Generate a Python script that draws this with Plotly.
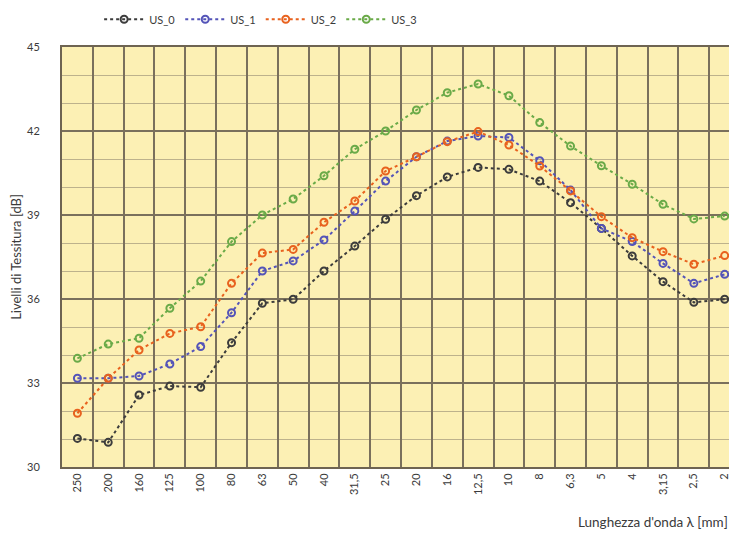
import plotly.graph_objects as go

categories = ["250", "200", "160", "125", "100", "80", "63", "50", "40", "31,5", "25",
              "20", "16", "12,5", "10", "8", "6,3", "5", "4", "3,15", "2,5", "2"]

us_0 = [31.02, 30.88, 32.57, 32.89, 32.85, 34.44, 35.85, 35.99, 37.0, 37.89, 38.85,
        39.69, 40.36, 40.70, 40.63, 40.21, 39.44, 38.52, 37.54, 36.62, 35.88, 35.99]
us_1 = [33.17, 33.17, 33.25, 33.68, 34.30, 35.51, 37.0, 37.36, 38.11, 39.14, 40.21,
        41.08, 41.64, 41.82, 41.77, 40.94, 39.89, 38.52, 38.05, 37.27, 36.56, 36.88]
us_2 = [31.92, 33.17, 34.18, 34.77, 35.01, 36.56, 37.64, 37.77, 38.74, 39.5, 40.57,
        41.08, 41.62, 41.98, 41.5, 40.75, 39.86, 38.94, 38.19, 37.69, 37.24, 37.55]
us_3 = [33.88, 34.39, 34.6, 35.67, 36.64, 38.05, 39.0, 39.57, 40.40, 41.35, 42.0,
        42.75, 43.37, 43.68, 43.26, 42.3, 41.46, 40.76, 40.1, 39.38, 38.86, 38.96]

series = [("US_0", us_0, "#3c3c3c"),
          ("US_1", us_1, "#5454b8"),
          ("US_2", us_2, "#e8621e"),
          ("US_3", us_3, "#6aaa48")]

y_ticks = [30, 33, 36, 39, 42, 45]

fig = go.Figure()
for name, vals, col in series:
    fig.add_trace(go.Scatter(
        x=categories, y=vals, name=name, mode="lines+markers",
        line=dict(color=col, width=2, dash="dot"),
        marker=dict(symbol="circle-open", size=7, color=col, line=dict(width=2)),
    ))

font_fam = "Lato, 'Open Sans', sans-serif"
fig.update_layout(
    width=729, height=530,
    margin=dict(l=54, r=0, t=39, b=71, autoexpand=False),
    paper_bgcolor="white",
    plot_bgcolor="#fcf0b4",
    font=dict(family=font_fam, size=11, color="#3a3a3a"),
    showlegend=True,
    legend=dict(orientation="h", x=0.055, xanchor="left", y=1.066, yanchor="middle",
                font=dict(size=11, color="#3a3a3a"), itemwidth=40,
                bgcolor="rgba(0,0,0,0)"),
    xaxis=dict(
        type="category", categoryorder="array", categoryarray=categories,
        range=[-0.5, 21.4], tickson="boundaries", ticks="",
        showgrid=True, gridcolor="#7a705c", gridwidth=1.5,
        tickangle=-90, tickfont=dict(size=11, color="#3a3a3a"),
        showline=True, linecolor="#6e6452", linewidth=2, mirror=True,
        zeroline=False, automargin=False,
    ),
    yaxis=dict(
        range=[30, 45], tickvals=y_ticks, ticks="",
        showgrid=True, gridcolor="#7a705c", gridwidth=1.5,
        minor=dict(dtick=1, showgrid=True, gridcolor="#bdb28c", gridwidth=1),
        tickfont=dict(size=11, color="#3a3a3a"),
        ticklabelstandoff=18,
        showline=True, linecolor="#6e6452", linewidth=2, mirror=True,
        zeroline=False, automargin=False,
        title=dict(text="Livelli di Tessitura [dB]", font=dict(size=13, color="#3a3a3a"),
                   standoff=7),
    ),
)

fig.add_annotation(
    text="Lunghezza d'onda λ [mm]", xref="paper", yref="paper",
    x=0.99, y=-0.131, xanchor="right", yanchor="middle", showarrow=False,
    font=dict(size=13.5, color="#3a3a3a", family=font_fam),
)

fig.write_html("out.html")
